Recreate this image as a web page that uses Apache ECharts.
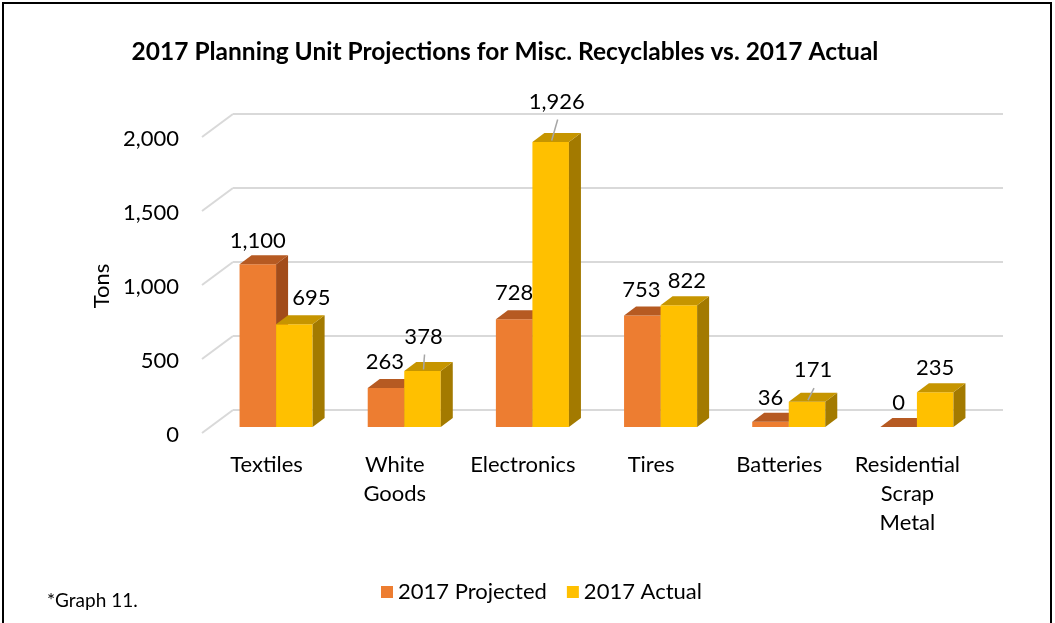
<!DOCTYPE html>
<html>
<head>
<meta charset="utf-8">
<script src="https://cdn.jsdelivr.net/npm/echarts@6/dist/echarts.min.js"></script>
<style>
  html, body { margin: 0; padding: 0; background: #fff; }
  #chart { width: 1055px; height: 623px; }
</style>
</head>
<body>
<div id="chart"></div>
<script>
// Misc. recyclables: planning-unit projections vs. actual tonnage, 2017
const categories = ['Textiles', 'White Goods', 'Electronics', 'Tires', 'Batteries', 'Residential Scrap Metal'];
const projected = [1100, 263, 728, 753, 36, 0];
const actual = [695, 378, 1926, 822, 171, 235];
const yTicks = [0, 500, 1000, 1500, 2000];
const seriesNames = ['2017 Projected', '2017 Actual'];

// Label placement relative to the centre of each bar's top face
const projectedLabelShift = [[-6, -19], [-7, -22], [-6, -22], [-7, -21], [-6, -19], [-6, -20]];
const actualLabelShift = [[11, -22], [-5, -30], [0, -36], [2, -20], [0, -27], [-6, -20]];
const actualLeader = [false, true, true, false, true, false];
const projectedLeader = [false, false, false, false, false, false];

const FONT = 'Lato, "Open Sans", sans-serif';
const DEPTH_X = 12, DEPTH_Y = -9;          // bar depth projection
const WALL_X = 31, WALL_Y = -23;           // floor/wall projection
const BAR_RATIO = 0.285;

const palette = {
  projected: { front: '#ED7D31', top: '#B65A22', side: '#A24C1A' },
  actual: { front: '#FFC000', top: '#C69500', side: '#A37A00' }
};

function fmt(v) { return v.toLocaleString('en-US'); }

function makeBarRenderer(colors, sideSign, shifts, leaders) {
  return function (params, api) {
    const idx = api.value(0);
    const val = api.value(1);
    const base = api.coord([idx, 0]);
    const top = api.coord([idx, val]);
    const band = api.size([1, 0])[0];
    const bw = band * BAR_RATIO;
    const x0 = sideSign < 0 ? base[0] - bw : base[0];
    const x1 = x0 + bw;
    const by = base[1], ty = top[1];
    const children = [
      { type: 'rect', shape: { x: x0, y: ty, width: bw, height: Math.max(by - ty, 0) },
        style: { fill: colors.front } },
      { type: 'polygon', shape: { points: [[x1, ty], [x1 + DEPTH_X, ty + DEPTH_Y], [x1 + DEPTH_X, by + DEPTH_Y], [x1, by]] },
        style: { fill: colors.side } },
      { type: 'polygon', shape: { points: [[x0, ty], [x0 + DEPTH_X, ty + DEPTH_Y], [x1 + DEPTH_X, ty + DEPTH_Y], [x1, ty]] },
        style: { fill: colors.top } }
    ];
    const cx = (x0 + x1) / 2 + DEPTH_X / 2;
    const cy = ty + DEPTH_Y / 2;
    const s = shifts[params.dataIndex];
    const lx = cx + s[0], ly = cy + s[1];
    if (leaders[params.dataIndex]) {
      children.push({ type: 'line', shape: { x1: lx + 1, y1: ly + 18, x2: cx - 5, y2: cy + 3 },
        style: { stroke: '#A6A6A6', lineWidth: 1.5 } });
    }
    children.push({ type: 'text', style: { text: fmt(val), x: lx, y: ly, align: 'center', verticalAlign: 'middle',
      font: '22px ' + FONT, fill: '#000' } });
    return { type: 'group', children: children };
  };
}

// Floor diagonal + back-wall line for each tick, with the tick label at the front end
function renderGrid(params, api) {
  const cs = params.coordSys;
  const v = api.value(1);
  const y = api.coord([0, v])[1];
  const fx = cs.x - 10, fy = y + 6;
  const bx = fx + WALL_X, byy = fy + WALL_Y;
  const style = { stroke: '#D9D9D9', lineWidth: 2 };
  return { type: 'group', children: [
    { type: 'line', shape: { x1: fx, y1: fy, x2: bx, y2: byy }, style: style },
    { type: 'line', shape: { x1: bx, y1: byy, x2: cs.x + cs.width + 22, y2: byy }, style: style },
    { type: 'text', style: { text: fmt(v), x: fx - 23, y: fy + 2, align: 'right', verticalAlign: 'middle',
      font: '22px ' + FONT, fill: '#000' } }
  ] };
}

const chart = echarts.init(document.getElementById('chart'), null, { renderer: 'canvas' });
chart.setOption({
  backgroundColor: '#fff',
  animation: false,
  textStyle: { fontFamily: FONT },
  grid: { left: 212, right: 74, top: 131, bottom: 196 },
  legend: {
    data: seriesNames,
    left: 376, top: 576,
    icon: 'rect', itemWidth: 12, itemHeight: 12, itemGap: 20,
    textStyle: { fontSize: 22, color: '#000', fontFamily: FONT }
  },
  xAxis: {
    type: 'category',
    data: categories,
    axisLine: { show: false }, axisTick: { show: false },
    axisLabel: {
      interval: 0, margin: 23, color: '#000', fontSize: 22, lineHeight: 29,
      padding: [0, 19, 0, 0], verticalAlign: 'top',
      formatter: v => v.split(' ').join('\n')
    }
  },
  yAxis: {
    type: 'value', min: 0, max: 2000, interval: 500,
    axisLine: { show: false }, axisTick: { show: false }, splitLine: { show: false },
    axisLabel: { show: false }
  },
  graphic: [
    { type: 'rect', shape: { x: 3, y: 3, width: 1048, height: 640 }, style: { fill: 'none', stroke: '#000', lineWidth: 2 }, z: 100 },
    { type: 'text', x: 505, y: 52, style: { text: '2017 Planning Unit Projections for Misc. Recyclables vs. 2017 Actual',
      align: 'center', verticalAlign: 'middle', font: 'bold 24.5px ' + FONT, fill: '#000' } },
    { type: 'text', x: 102, y: 286, rotation: Math.PI / 2, style: { text: 'Tons', align: 'center', verticalAlign: 'middle',
      font: '22px ' + FONT, fill: '#000' } },
    { type: 'text', x: 47, y: 601, style: { text: '*Graph 11.', align: 'left', verticalAlign: 'middle',
      font: '19px ' + FONT, fill: '#000' } }
  ],
  series: [
    { type: 'custom', name: 'grid', silent: true, z: 1, renderItem: renderGrid,
      data: yTicks.map(v => [0, v]), legendHoverLink: false },
    { type: 'custom', name: seriesNames[0], z: 2, itemStyle: { color: palette.projected.front },
      renderItem: makeBarRenderer(palette.projected, -1, projectedLabelShift, projectedLeader),
      data: projected.map((v, i) => [i, v]) },
    { type: 'custom', name: seriesNames[1], z: 3, itemStyle: { color: palette.actual.front },
      renderItem: makeBarRenderer(palette.actual, 1, actualLabelShift, actualLeader),
      data: actual.map((v, i) => [i, v]) }
  ]
});
</script>
</body>
</html>
